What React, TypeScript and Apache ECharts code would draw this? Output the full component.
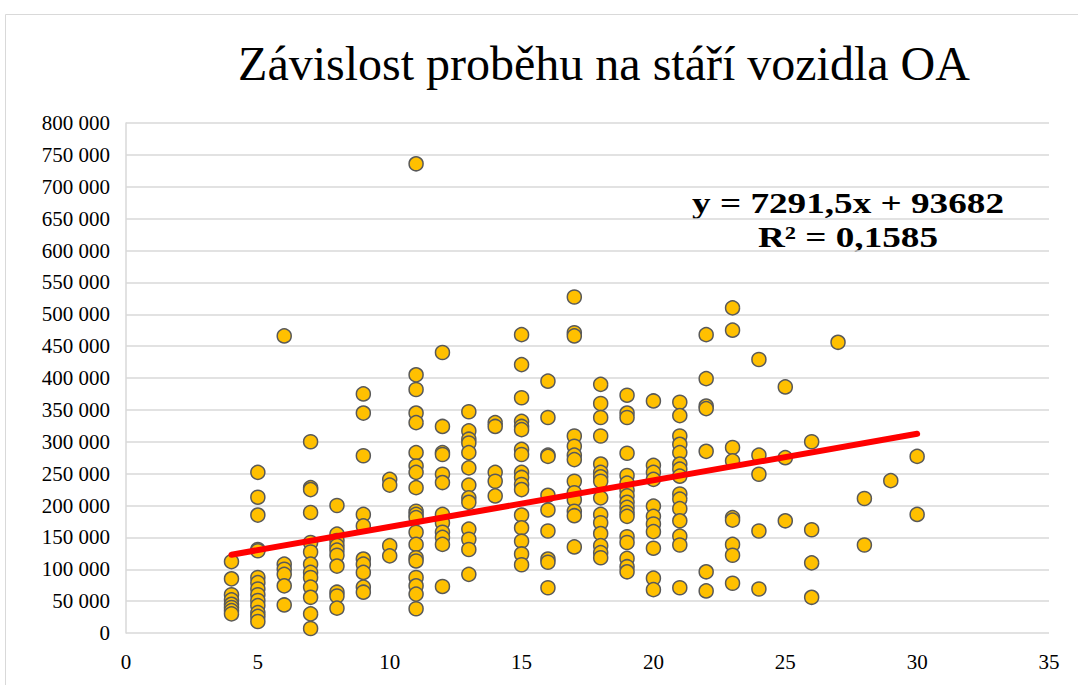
import React, { useEffect, useRef } from "react";
import * as echarts from "echarts";

const chartTitle = "Závislost proběhu na stáří vozidla OA";
const equationLine1 = "y = 7291,5x + 93682";
const equationLine2 = "R² = 0,1585";
const trendSlope = 7291.5;
const trendIntercept = 93682;
const trendRange = [4, 30];

const ages = [4, 5, 6, 7, 8, 9, 10, 11, 12, 13, 14, 15, 16, 17, 18, 19, 20, 21, 22, 23, 24, 25, 26, 27, 28, 29, 30];

const mileage4 = [112000, 85000, 60000, 52000, 45000, 40000, 35000, 30000];
const mileage5 = [252000, 213000, 185000, 131000, 129000, 87000, 79000, 69000, 60000, 51000, 43000, 32000, 26000, 18000];
const mileage6 = [466000, 108000, 100000, 92000, 74000, 44000];
const mileage7 = [300000, 228000, 225000, 189000, 142000, 127000, 108000, 95000, 87000, 72000, 56000, 30000, 7000];
const mileage8 = [200000, 155000, 145000, 137000, 130000, 122000, 105000, 64000, 58000, 39000];
const mileage9 = [375000, 345000, 278000, 186000, 168000, 116000, 108000, 95000, 72000, 64000];
const mileage10 = [241000, 232000, 137000, 121000];
const mileage11 = [736000, 405000, 382000, 345000, 330000, 283000, 262000, 252000, 228000, 191000, 186000, 181000, 158000, 139000, 118000, 113000, 87000, 74000, 61000, 38000];
const mileage12 = [440000, 324000, 283000, 280000, 249000, 236000, 186000, 173000, 158000, 150000, 139000, 73000];
const mileage13 = [347000, 317000, 304000, 298000, 283000, 259000, 232000, 212000, 205000, 163000, 147000, 131000, 92000];
const mileage14 = [330000, 324000, 252000, 238000, 215000];
const mileage15 = [468000, 421000, 369000, 332000, 324000, 319000, 288000, 280000, 252000, 244000, 233000, 225000, 185000, 165000, 144000, 124000, 107000];
const mileage16 = [395000, 338000, 279000, 277000, 216000, 193000, 160000, 116000, 111000, 71000];
const mileage17 = [527000, 471000, 466000, 309000, 293000, 279000, 272000, 238000, 220000, 209000, 191000, 184000, 135000];
const mileage18 = [390000, 360000, 338000, 309000, 265000, 252000, 245000, 238000, 212000, 186000, 173000, 156000, 137000, 126000, 118000];
const mileage19 = [373000, 345000, 338000, 282000, 247000, 235000, 224000, 215000, 205000, 197000, 189000, 183000, 151000, 142000, 117000, 104000, 96000];
const mileage20 = [364000, 263000, 252000, 241000, 199000, 183000, 171000, 159000, 133000, 86000, 68000];
const mileage21 = [362000, 341000, 309000, 296000, 283000, 265000, 257000, 246000, 218000, 210000, 195000, 176000, 152000, 138000, 71000];
const mileage22 = [468000, 399000, 356000, 352000, 285000, 96000, 66000];
const mileage23 = [510000, 475000, 291000, 270000, 181000, 177000, 139000, 122000, 78000];
const mileage24 = [429000, 279000, 249000, 160000, 69000];
const mileage25 = [386000, 275000, 176000];
const mileage26 = [300000, 162000, 110000, 56000];
const mileage27 = [456000];
const mileage28 = [211000, 138000];
const mileage29 = [239000];
const mileage30 = [277000, 186000];

const mileageByAge = [
  mileage4, mileage5, mileage6, mileage7, mileage8, mileage9, mileage10, mileage11, mileage12,
  mileage13, mileage14, mileage15, mileage16, mileage17, mileage18, mileage19, mileage20, mileage21,
  mileage22, mileage23, mileage24, mileage25, mileage26, mileage27, mileage28, mileage29, mileage30,
];

const xTicks = { min: 0, max: 35, interval: 5 };
const yTicks = { min: 0, max: 800000, interval: 50000 };

const serif = "Liberation Serif";

export default function App() {
  const ref = useRef<HTMLDivElement>(null);
  useEffect(() => {
    if (!ref.current) return;
    const chart = echarts.init(ref.current, null, { renderer: "svg" });
    const points: number[][] = [];
    ages.forEach((a, i) => mileageByAge[i].forEach((v) => points.push([a, v])));
    const trend = trendRange.map((x) => [x, trendSlope * x + trendIntercept]);
    chart.setOption({
      animation: false,
      backgroundColor: "#ffffff",
      textStyle: { fontFamily: serif },
      grid: { left: 126, right: 29, top: 123, bottom: 52 },
      graphic: [
        {
          type: "rect",
          shape: { x: 5.5, y: 14.5, width: 1200, height: 800 },
          style: { fill: "none", stroke: "#d9d9d9", lineWidth: 1 },
          silent: true,
          z: -10,
        },
        {
          type: "text",
          x: 604,
          y: 63,
          style: {
            text: chartTitle,
            fontFamily: serif,
            fontSize: 48,
            fill: "#000000",
            textAlign: "center",
            textVerticalAlign: "middle",
          },
        },
        {
          type: "text",
          x: 848,
          y: 203,
          scaleX: 1.24,
          style: {
            text: equationLine1,
            fontFamily: serif,
            fontSize: 30,
            fontWeight: "bold",
            fill: "#000000",
            textAlign: "center",
            textVerticalAlign: "middle",
          },
        },
        {
          type: "text",
          x: 848,
          y: 236.5,
          scaleX: 1.24,
          style: {
            text: equationLine2,
            fontFamily: serif,
            fontSize: 30,
            fontWeight: "bold",
            fill: "#000000",
            textAlign: "center",
            textVerticalAlign: "middle",
          },
        },
      ],
      xAxis: {
        type: "value",
        min: xTicks.min,
        max: xTicks.max,
        interval: xTicks.interval,
        axisLine: { show: false },
        axisTick: { show: false },
        splitLine: { show: false },
        axisLabel: { color: "#000000", fontSize: 21, fontFamily: serif, margin: 18 },
      },
      yAxis: {
        type: "value",
        min: yTicks.min,
        max: yTicks.max,
        interval: yTicks.interval,
        axisLine: { show: true, lineStyle: { color: "#d9d9d9", width: 1.5 } },
        axisTick: { show: false },
        splitLine: { show: true, lineStyle: { color: "#d9d9d9", width: 1.5 } },
        axisLabel: {
          color: "#000000",
          fontSize: 21,
          fontFamily: serif,
          margin: 16,
          formatter: (v: number) => String(v).replace(/\B(?=(\d{3})+(?!\d))/g, " "),
        },
      },
      series: [
        {
          type: "scatter",
          data: points,
          symbol: "circle",
          symbolSize: 14,
          itemStyle: { color: "#FFC000", borderColor: "#595959", borderWidth: 1.5, opacity: 1 },
          z: 2,
        },
        {
          type: "line",
          data: trend,
          symbol: "none",
          lineStyle: { color: "#FF0000", width: 6, cap: "round" },
          z: 3,
        },
      ],
    });
    return () => chart.dispose();
  }, []);
  return (
    <div
      ref={ref}
      style={{ position: "absolute", left: 0, top: 0, width: 1078, height: 685 }}
    />
  );
}
